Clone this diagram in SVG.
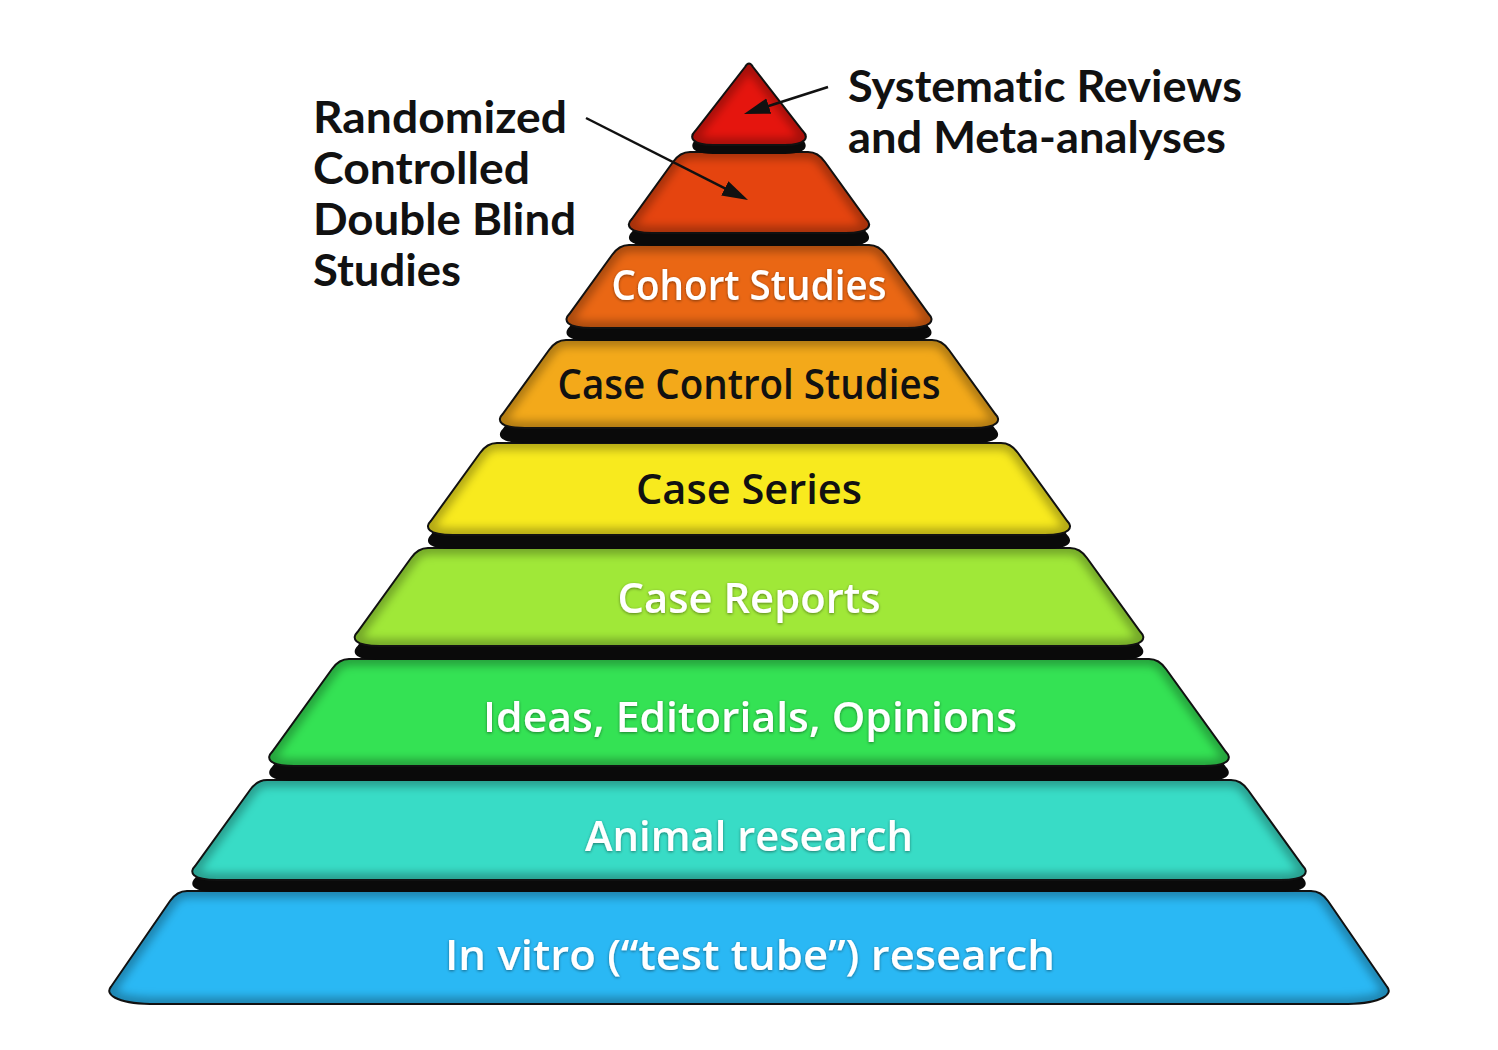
<svg xmlns="http://www.w3.org/2000/svg" xmlns:xlink="http://www.w3.org/1999/xlink" width="1498" height="1050" viewBox="0 0 1498 1050">
<style>
.edge{fill:none;stroke:#000;stroke-opacity:.28;stroke-width:14}
.outline{fill:none;stroke:#111;stroke-width:2}
.shadow{fill:#0a0a0a}
.lbl{font-family:"Open Sans","Noto Sans","Liberation Sans",sans-serif;font-weight:600;font-size:42px;text-anchor:middle}
.w{fill:#fff;filter:url(#ts)}
.b{fill:#111}
.cap{font-family:Lato,"Open Sans","Liberation Sans",sans-serif;font-weight:700;font-size:43px;fill:#111;font-variant-ligatures:none;font-feature-settings:"liga" 0,"clig" 0}
.arr{stroke:#111;stroke-width:2.5;fill:none;marker-end:url(#ah)}
</style>
<defs>
<filter id="blur" x="-5%" y="-5%" width="110%" height="110%"><feGaussianBlur stdDeviation="4"/></filter>
<filter id="ts" x="-5%" y="-20%" width="110%" height="140%"><feDropShadow dx="0" dy="1" stdDeviation="1.5" flood-color="#000" flood-opacity=".45"/></filter>
<marker id="ah" markerUnits="userSpaceOnUse" markerWidth="26" markerHeight="18" refX="14" refY="9" orient="auto"><path d="M0,1 L26,9 L0,17 Z" fill="#111"/></marker>
<path id="p1" d="M745,67 Q749,60 753,67 L802.8,131 C808.8,137 806.8,145 784.8,145 L713.2,145 C691.2,145 689.2,137 695.2,131 Z"/>
<path id="p2" d="M690,152 L808,152 Q818,152 825,162 L866.2,219 C872.2,225 870.2,233 846.2,233 L651.8,233 C627.8,233 625.8,225 631.8,219 L673,162 Q680,152 690,152 Z"/>
<path id="p3" d="M629,245 L869,245 Q879,245 886,255 L928.7,314 C934.7,320 932.7,328 906.7,328 L591.3,328 C565.3,328 563.3,320 569.3,314 L612,255 Q619,245 629,245 Z"/>
<path id="p4" d="M566,340 L932,340 Q942,340 949,350 L995.3,414 C1001.3,420 999.3,428 973.3,428 L524.7,428 C498.7,428 496.7,420 502.7,414 L549,350 Q556,340 566,340 Z"/>
<path id="p5" d="M497,443 L1001,443 Q1011,443 1018,453 L1067.2,521 C1073.2,527 1071.2,535 1045.2,535 L452.8,535 C426.8,535 424.8,527 430.8,521 L480,453 Q487,443 497,443 Z"/>
<path id="p6" d="M428,548 L1070,548 Q1080,548 1087,558 L1140.5,632 C1146.5,638 1144.5,646 1118.5,646 L379.5,646 C353.5,646 351.5,638 357.5,632 L411,558 Q418,548 428,548 Z"/>
<path id="p7" d="M349,659 L1149,659 Q1159,659 1166,669 L1226,752 C1232,758 1230,766 1204,766 L294,766 C268,766 266,758 272,752 L332,669 Q339,659 349,659 Z"/>
<path id="p8" d="M267,780 L1231,780 Q1241,780 1248,790 L1302.9,866 C1308.9,872 1306.9,880 1280.9,880 L217.1,880 C191.1,880 189.1,872 195.1,866 L250,790 Q257,780 267,780 Z"/>
<path id="p9" d="M187,891 L1311,891 Q1321,891 1328,901 L1387.2,987 C1393,994 1383,1003 1348,1004 L150,1004 C115,1003 105,994 110.8,987 L170,901 Q177,891 187,891 Z"/>
<clipPath id="c1"><use xlink:href="#p1"/></clipPath>
<clipPath id="c2"><use xlink:href="#p2"/></clipPath>
<clipPath id="c3"><use xlink:href="#p3"/></clipPath>
<clipPath id="c4"><use xlink:href="#p4"/></clipPath>
<clipPath id="c5"><use xlink:href="#p5"/></clipPath>
<clipPath id="c6"><use xlink:href="#p6"/></clipPath>
<clipPath id="c7"><use xlink:href="#p7"/></clipPath>
<clipPath id="c8"><use xlink:href="#p8"/></clipPath>
<clipPath id="c9"><use xlink:href="#p9"/></clipPath>
</defs>
<rect width="1498" height="1050" fill="#fff"/>

<g id="layer-invitro">
<use xlink:href="#p9" fill="#2ab8f4"/>
<g clip-path="url(#c9)"><use xlink:href="#p9" class="edge" filter="url(#blur)"/></g>
<use xlink:href="#p9" class="outline"/>
<text class="lbl w" x="750" y="970" textLength="610" lengthAdjust="spacingAndGlyphs">In vitro (“test tube”) research</text>
</g>

<g id="layer-animal">
<use xlink:href="#p8" class="shadow" transform="translate(0,12)"/>
<use xlink:href="#p8" fill="#38dcc6"/>
<g clip-path="url(#c8)"><use xlink:href="#p8" class="edge" filter="url(#blur)"/></g>
<use xlink:href="#p8" class="outline"/>
<text class="lbl w" x="749" y="851" textLength="328" lengthAdjust="spacingAndGlyphs">Animal research</text>
</g>

<g id="layer-ideas">
<use xlink:href="#p7" class="shadow" transform="translate(0,15)"/>
<use xlink:href="#p7" fill="#34e254"/>
<g clip-path="url(#c7)"><use xlink:href="#p7" class="edge" filter="url(#blur)"/></g>
<use xlink:href="#p7" class="outline"/>
<text class="lbl w" x="750" y="732" textLength="534" lengthAdjust="spacingAndGlyphs">Ideas, Editorials, Opinions</text>
</g>

<g id="layer-casereports">
<use xlink:href="#p6" class="shadow" transform="translate(0,14)"/>
<use xlink:href="#p6" fill="#a0e838"/>
<g clip-path="url(#c6)"><use xlink:href="#p6" class="edge" filter="url(#blur)"/></g>
<use xlink:href="#p6" class="outline"/>
<text class="lbl w" x="749" y="613" textLength="263" lengthAdjust="spacingAndGlyphs">Case Reports</text>
</g>

<g id="layer-caseseries">
<use xlink:href="#p5" class="shadow" transform="translate(0,14)"/>
<use xlink:href="#p5" fill="#f8ea1e"/>
<g clip-path="url(#c5)"><use xlink:href="#p5" class="edge" filter="url(#blur)"/></g>
<use xlink:href="#p5" class="outline"/>
<text class="lbl b" x="749" y="504" textLength="226" lengthAdjust="spacingAndGlyphs">Case Series</text>
</g>

<g id="layer-casecontrol">
<use xlink:href="#p4" class="shadow" transform="translate(0,15)"/>
<use xlink:href="#p4" fill="#f3a91a"/>
<g clip-path="url(#c4)"><use xlink:href="#p4" class="edge" filter="url(#blur)"/></g>
<use xlink:href="#p4" class="outline"/>
<text class="lbl b" x="749" y="399" textLength="383" lengthAdjust="spacingAndGlyphs">Case Control Studies</text>
</g>

<g id="layer-cohort">
<use xlink:href="#p3" class="shadow" transform="translate(0,13)"/>
<use xlink:href="#p3" fill="#ea6714"/>
<g clip-path="url(#c3)"><use xlink:href="#p3" class="edge" filter="url(#blur)"/></g>
<use xlink:href="#p3" class="outline"/>
<text class="lbl w" x="749" y="300" textLength="275" lengthAdjust="spacingAndGlyphs">Cohort Studies</text>
</g>

<g id="layer-rct">
<use xlink:href="#p2" class="shadow" transform="translate(0,13)"/>
<use xlink:href="#p2" fill="#e5440f"/>
<g clip-path="url(#c2)"><use xlink:href="#p2" class="edge" filter="url(#blur)"/></g>
<use xlink:href="#p2" class="outline"/>
</g>

<g id="layer-systematic">
<use xlink:href="#p1" class="shadow" transform="translate(0,9)"/>
<use xlink:href="#p1" fill="#e5150e"/>
<g clip-path="url(#c1)"><use xlink:href="#p1" class="edge" filter="url(#blur)"/></g>
<use xlink:href="#p1" class="outline"/>
</g>

<g id="label-rct">
<text class="cap" x="313" y="133" textLength="254" lengthAdjust="spacingAndGlyphs">Randomized</text>
<text class="cap" x="313" y="184" textLength="217" lengthAdjust="spacingAndGlyphs">Controlled</text>
<text class="cap" x="313" y="235" textLength="263" lengthAdjust="spacingAndGlyphs">Double Blind</text>
<text class="cap" x="313" y="286" textLength="148" lengthAdjust="spacingAndGlyphs">Studies</text>
</g>

<g id="label-systematic">
<text class="cap" x="848" y="102" textLength="394" lengthAdjust="spacingAndGlyphs">Systematic Reviews</text>
<text class="cap" x="848" y="153" textLength="378" lengthAdjust="spacingAndGlyphs">and Meta-analyses</text>
</g>

<g id="connectors">
<line class="arr" x1="828" y1="87" x2="755.4" y2="110.3"/>
<line class="arr" x1="586" y1="118" x2="737.3" y2="194.6"/>
</g>
</svg>
